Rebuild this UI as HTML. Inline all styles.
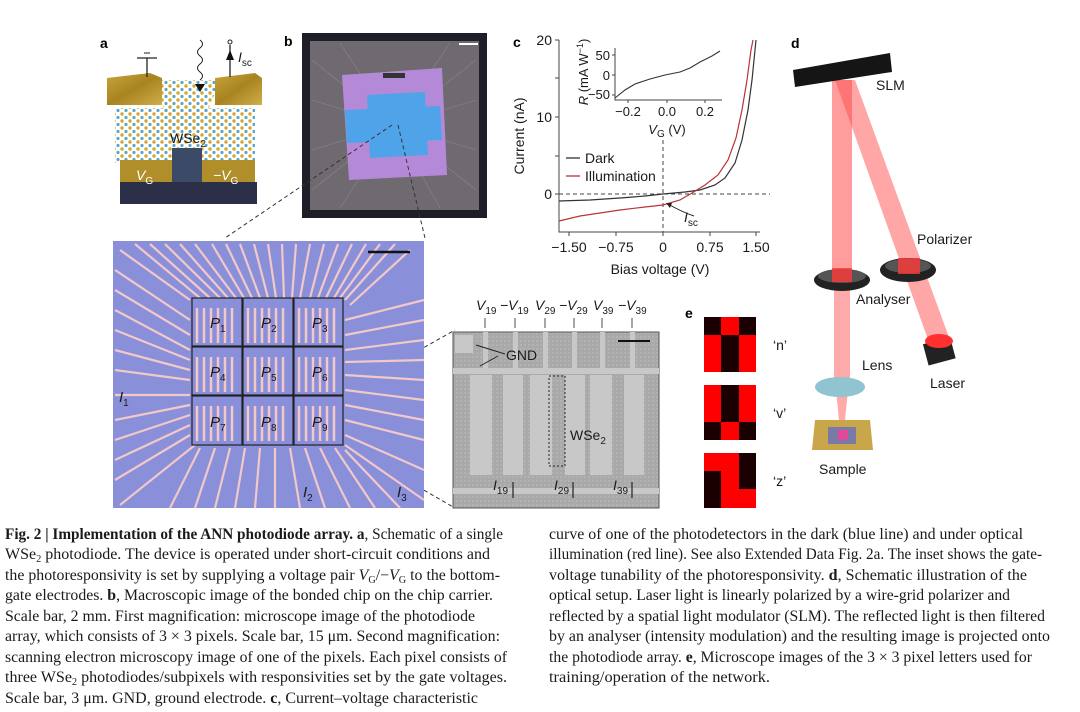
<!DOCTYPE html>
<html><head><meta charset="utf-8"><style>
html,body{margin:0;padding:0;background:#fff;width:1080px;height:712px;overflow:hidden}
svg{display:block}
.s{font-family:"Liberation Sans",Arial,sans-serif;fill:#1a1a1a}
.c{font-family:"Liberation Serif",serif;font-size:15.5px;fill:#1a1a1a}
.b{font-weight:bold}
.lbl{font-family:"Liberation Sans",sans-serif;font-weight:bold;font-size:14px}
</style></head><body>
<svg width="1080" height="712" viewBox="0 0 1080 712">
<defs>
<pattern id="atoms" width="8" height="7" patternUnits="userSpaceOnUse">
<circle cx="2" cy="2" r="1.7" fill="#d4a92a"/><circle cx="6" cy="5.5" r="1.6" fill="#5aa7c9"/>
</pattern>
<pattern id="sem" width="4" height="4" patternUnits="userSpaceOnUse"><rect width="4" height="4" fill="#a9a9a9"/><rect width="2" height="2" fill="#b2b2b2"/></pattern>
<linearGradient id="gold" x1="0" y1="0" x2="1" y2="1"><stop offset="0" stop-color="#c9a43a"/><stop offset="0.5" stop-color="#a88420"/><stop offset="1" stop-color="#d0ae4a"/></linearGradient>
</defs>

<!-- panel a -->
<text x="100" y="48" class="lbl">a</text>
<rect x="115" y="108" width="140" height="55" fill="url(#atoms)"/>
<polygon points="155,80 220,80 200,130 170,130" fill="url(#atoms)"/>
<rect x="120" y="160" width="135" height="22" fill="#b08e2a"/>
<rect x="172" y="148" width="30" height="34" fill="#3b4a66"/>
<rect x="120" y="182" width="137" height="22" fill="#2b3048"/>
<polygon points="107,78 150,73 162,78 162,105 107,105" fill="url(#gold)"/>
<polygon points="215,78 255,73 262,78 262,105 215,105" fill="url(#gold)"/>
<line x1="147" y1="58" x2="147" y2="77" stroke="#222" stroke-width="1.3"/>
<line x1="137" y1="58" x2="157" y2="58" stroke="#222" stroke-width="1.3"/>
<line x1="144" y1="53" x2="150" y2="53" stroke="#222"/>
<line x1="230" y1="45" x2="230" y2="77" stroke="#222" stroke-width="1.3"/>
<polygon points="226,60 234,60 230,50" fill="#111"/>
<circle cx="230" cy="42" r="2" fill="none" stroke="#222"/>
<text x="238" y="62" class="s" font-size="14" font-style="italic">I<tspan font-size="10" font-style="normal" dy="4">sc</tspan></text>
<path d="M200,40 q5,4 0,8 q-5,4 0,8 q5,4 0,8 q-5,4 0,8 q5,4 0,8" fill="none" stroke="#222"/>
<polygon points="195,84 205,84 200,92" fill="#111"/>
<text x="170" y="143" class="s" font-size="14">WSe<tspan font-size="10" dy="4">2</tspan></text>
<text x="136" y="180" class="s" font-size="14" font-style="italic" fill="#fff" style="fill:#fff">V<tspan font-size="10" font-style="normal" dy="4">G</tspan></text>
<text x="213" y="180" class="s" font-size="14" font-style="italic" style="fill:#fff">−V<tspan font-size="10" font-style="normal" dy="4">G</tspan></text>

<!-- panel b -->
<text x="284" y="46" class="lbl">b</text>
<rect x="302" y="33" width="185" height="185" fill="#1e1e28"/>
<rect x="310" y="41" width="169" height="169" fill="#6e6a70"/>
<g stroke="#8a868c" stroke-width="0.6">
<line x1="394" y1="125" x2="312" y2="60"/><line x1="394" y1="125" x2="312" y2="100"/><line x1="394" y1="125" x2="312" y2="150"/><line x1="394" y1="125" x2="312" y2="190"/>
<line x1="394" y1="125" x2="476" y2="60"/><line x1="394" y1="125" x2="476" y2="100"/><line x1="394" y1="125" x2="476" y2="150"/><line x1="394" y1="125" x2="476" y2="190"/>
<line x1="394" y1="125" x2="340" y2="208"/><line x1="394" y1="125" x2="440" y2="208"/><line x1="394" y1="125" x2="340" y2="43"/><line x1="394" y1="125" x2="450" y2="43"/>
</g>
<polygon points="342,75 442,68 447,175 349,180" fill="#b48ad8"/>
<polygon points="367,95 425,92 428,155 370,158" fill="#4fa3e8"/>
<polygon points="345,110 440,106 442,140 347,143" fill="#4fa3e8"/>
<rect x="383" y="73" width="22" height="5" fill="#333"/>
<line x1="459" y1="44" x2="478" y2="44" stroke="#fff" stroke-width="2"/>

<!-- dashed zoom lines -->
<g stroke="#333" stroke-dasharray="4,3" stroke-width="1">
<line x1="392" y1="125" x2="225" y2="238"/><line x1="398" y1="125" x2="425" y2="238"/>
<line x1="345" y1="392" x2="455" y2="330"/><line x1="345" y1="445" x2="455" y2="508"/>
</g>

<!-- microscope -->
<rect x="113" y="241" width="311" height="267" fill="#8a8fd9"/>
<g stroke="#f2c8c8" stroke-width="2.2" fill="none">
<path d="M120,250 L190,300 M135,244 L200,298 M150,244 L210,298 M165,244 L220,298 M180,244 L228,298 M195,244 L236,298 M212,244 L244,298 M226,244 L252,298 M240,244 L260,298 M254,244 L268,298 M268,244 L276,298 M282,244 L284,298 M296,244 L292,298 M310,244 L300,298 M324,244 L310,298 M338,244 L318,298 M352,244 L326,298 M366,244 L334,298 M380,244 L340,298 M395,244 L345,300 M410,250 L350,305"/>
<path d="M115,270 L190,320 M115,290 L190,335 M115,310 L190,350 M115,330 L190,360 M115,350 L190,370 M115,370 L190,380 M115,395 L190,395 M115,420 L190,405 M115,440 L190,415 M115,460 L190,425 M115,480 L190,435 M120,505 L195,445"/>
<path d="M424,300 L345,320 M424,320 L345,335 M424,340 L345,350 M424,360 L345,362 M424,380 L345,375 M424,400 L345,390 M424,420 L345,405 M424,440 L345,420 M424,470 L345,435 M424,500 L345,445"/>
<path d="M200,448 L170,508 M215,448 L195,508 M230,448 L215,508 M245,448 L235,508 M260,448 L255,508 M275,448 L275,508 M290,448 L300,508 M305,448 L325,508 M320,448 L350,508 M335,448 L375,508 M345,450 L400,508"/>
</g>
<g stroke="#f2c8c8" stroke-width="2.5">
<path d="M197,308 v35 M204,308 v35 M211,308 v35 M218,308 v35 M225,308 v35 M232,308 v35 M248,308 v35 M255,308 v35 M262,308 v35 M269,308 v35 M276,308 v35 M283,308 v35 M299,308 v35 M306,308 v35 M313,308 v35 M320,308 v35 M327,308 v35 M334,308 v35"/>
<path d="M197,357 v35 M204,357 v35 M211,357 v35 M218,357 v35 M225,357 v35 M232,357 v35 M248,357 v35 M255,357 v35 M262,357 v35 M269,357 v35 M276,357 v35 M283,357 v35 M299,357 v35 M306,357 v35 M313,357 v35 M320,357 v35 M327,357 v35 M334,357 v35"/>
<path d="M197,406 v35 M204,406 v35 M211,406 v35 M218,406 v35 M225,406 v35 M232,406 v35 M248,406 v35 M255,406 v35 M262,406 v35 M269,406 v35 M276,406 v35 M283,406 v35 M299,406 v35 M306,406 v35 M313,406 v35 M320,406 v35 M327,406 v35 M334,406 v35"/>
</g>
<g fill="none" stroke="#222" stroke-width="1.2">
<rect x="192" y="298" width="50" height="48"/><rect x="243" y="298" width="50" height="48"/><rect x="294" y="298" width="49" height="48"/>
<rect x="192" y="347" width="50" height="48"/><rect x="243" y="347" width="50" height="48"/><rect x="294" y="347" width="49" height="48"/>
<rect x="192" y="396" width="50" height="49"/><rect x="243" y="396" width="50" height="49"/><rect x="294" y="396" width="49" height="49"/>
</g>
<g class="s" font-size="15" font-style="italic">
<text x="210" y="328">P<tspan font-size="10" font-style="normal" dy="4">1</tspan></text>
<text x="261" y="328">P<tspan font-size="10" font-style="normal" dy="4">2</tspan></text>
<text x="312" y="328">P<tspan font-size="10" font-style="normal" dy="4">3</tspan></text>
<text x="210" y="377">P<tspan font-size="10" font-style="normal" dy="4">4</tspan></text>
<text x="261" y="377">P<tspan font-size="10" font-style="normal" dy="4">5</tspan></text>
<text x="312" y="377">P<tspan font-size="10" font-style="normal" dy="4">6</tspan></text>
<text x="210" y="427">P<tspan font-size="10" font-style="normal" dy="4">7</tspan></text>
<text x="261" y="427">P<tspan font-size="10" font-style="normal" dy="4">8</tspan></text>
<text x="312" y="427">P<tspan font-size="10" font-style="normal" dy="4">9</tspan></text>
<text x="119" y="402">I<tspan font-size="10" font-style="normal" dy="4">1</tspan></text>
<text x="303" y="497">I<tspan font-size="10" font-style="normal" dy="4">2</tspan></text>
<text x="397" y="497">I<tspan font-size="10" font-style="normal" dy="4">3</tspan></text>
</g>
<line x1="368" y1="252" x2="410" y2="252" stroke="#111" stroke-width="2.5"/>

<!-- SEM -->
<rect x="453" y="332" width="206" height="176" fill="url(#sem)" stroke="#555"/>
<g fill="#c8c8c8">
<rect x="453" y="368" width="206" height="6"/><rect x="453" y="488" width="206" height="6"/>
<rect x="470" y="375" width="22" height="100"/><rect x="503" y="375" width="20" height="100"/>
<rect x="530" y="375" width="22" height="100"/><rect x="565" y="375" width="20" height="100"/>
<rect x="590" y="375" width="22" height="100"/><rect x="624" y="375" width="20" height="100"/>
<rect x="483" y="332" width="5" height="40"/><rect x="513" y="332" width="5" height="40"/><rect x="543" y="332" width="5" height="40"/><rect x="572" y="332" width="5" height="40"/><rect x="600" y="332" width="5" height="40"/><rect x="630" y="332" width="5" height="40"/>
<rect x="455" y="335" width="18" height="18"/>
</g>
<rect x="549" y="376" width="16" height="90" fill="none" stroke="#222" stroke-dasharray="2,2"/>
<line x1="618" y1="341" x2="650" y2="341" stroke="#111" stroke-width="2"/>
<g stroke="#222"><line x1="476" y1="345" x2="505" y2="354"/><line x1="498" y1="356" x2="480" y2="366"/></g>
<text x="506" y="360" class="s" font-size="14">GND</text>
<text x="570" y="440" class="s" font-size="14">WSe<tspan font-size="10" dy="4">2</tspan></text>
<g class="s" font-size="14" font-style="italic">
<text x="476" y="310">V<tspan font-size="10" font-style="normal" dy="4">19</tspan></text>
<text x="500" y="310">−V<tspan font-size="10" font-style="normal" dy="4">19</tspan></text>
<text x="535" y="310">V<tspan font-size="10" font-style="normal" dy="4">29</tspan></text>
<text x="559" y="310">−V<tspan font-size="10" font-style="normal" dy="4">29</tspan></text>
<text x="593" y="310">V<tspan font-size="10" font-style="normal" dy="4">39</tspan></text>
<text x="618" y="310">−V<tspan font-size="10" font-style="normal" dy="4">39</tspan></text>
<text x="493" y="490">I<tspan font-size="10" font-style="normal" dy="4">19</tspan></text>
<text x="554" y="490">I<tspan font-size="10" font-style="normal" dy="4">29</tspan></text>
<text x="613" y="490">I<tspan font-size="10" font-style="normal" dy="4">39</tspan></text>
</g>
<g stroke="#222" stroke-width="0.8"><line x1="485" y1="318" x2="485" y2="328"/><line x1="515" y1="318" x2="515" y2="328"/><line x1="545" y1="318" x2="545" y2="328"/><line x1="574" y1="318" x2="574" y2="328"/><line x1="602" y1="318" x2="602" y2="328"/><line x1="632" y1="318" x2="632" y2="328"/>
<line x1="513" y1="482" x2="513" y2="498" stroke-width="1.2"/><line x1="573" y1="482" x2="573" y2="498" stroke-width="1.2"/><line x1="632" y1="482" x2="632" y2="498" stroke-width="1.2"/></g>

<!-- panel c -->
<text x="513" y="47" class="lbl">c</text>
<g stroke="#444" stroke-width="1" fill="none">
<polyline points="559,40 559,232 760,232"/>
<line x1="555" y1="40" x2="559" y2="40"/><line x1="555" y1="78" x2="559" y2="78"/><line x1="555" y1="117" x2="559" y2="117"/><line x1="555" y1="156" x2="559" y2="156"/><line x1="555" y1="194" x2="559" y2="194"/>
<line x1="569" y1="232" x2="569" y2="236"/><line x1="616" y1="232" x2="616" y2="236"/><line x1="663" y1="232" x2="663" y2="236"/><line x1="710" y1="232" x2="710" y2="236"/><line x1="756" y1="232" x2="756" y2="236"/>
<line x1="559" y1="194" x2="770" y2="194" stroke-dasharray="4,3"/>
<line x1="663" y1="140" x2="663" y2="232" stroke-dasharray="4,3"/>
</g>
<g class="s" font-size="14" text-anchor="end"><text x="552" y="45">20</text><text x="552" y="122">10</text><text x="552" y="199">0</text></g>
<g class="s" font-size="14" text-anchor="middle"><text x="569" y="252">−1.50</text><text x="616" y="252">−0.75</text><text x="663" y="252">0</text><text x="710" y="252">0.75</text><text x="756" y="252">1.50</text>
<text x="660" y="274">Bias voltage (V)</text>
<text transform="translate(524,136) rotate(-90)">Current (nA)</text></g>
<polyline fill="none" stroke="#333" stroke-width="1.2" points="559,201 590,200 620,198 645,196 663,194 685,192 700,190 715,185 725,178 735,163 742,140 748,110 752,80 755,50 756,40"/>
<polyline fill="none" stroke="#b33" stroke-width="1.2" points="559,221 580,216 600,213 620,210 645,207 663,205 680,200 692,193 705,185 718,175 728,160 736,138 742,110 747,80 751,50 753,40"/>
<line x1="566" y1="158" x2="580" y2="158" stroke="#333" stroke-width="1.3"/>
<line x1="566" y1="176" x2="580" y2="176" stroke="#b33" stroke-width="1.3"/>
<text x="585" y="163" class="s" font-size="14">Dark</text>
<text x="585" y="181" class="s" font-size="14">Illumination</text>
<path d="M694,216 q-12,-4 -26,-12" fill="none" stroke="#222"/><polygon points="666,203 672,203 670,208" fill="#222"/>
<text x="684" y="222" class="s" font-size="14" font-style="italic">I<tspan font-size="10" font-style="normal" dy="4">sc</tspan></text>
<!-- inset -->
<g stroke="#444" fill="none"><polyline points="615,48 615,100 722,100"/>
<line x1="612" y1="55" x2="615" y2="55"/><line x1="612" y1="75" x2="615" y2="75"/><line x1="612" y1="95" x2="615" y2="95"/>
<line x1="628" y1="100" x2="628" y2="103"/><line x1="667" y1="100" x2="667" y2="103"/><line x1="705" y1="100" x2="705" y2="103"/></g>
<polyline fill="none" stroke="#333" stroke-width="1.1" points="615,98 625,90 635,84 650,79 665,75 680,72 690,68 700,62 712,56 720,51"/>
<g class="s" font-size="13" text-anchor="end"><text x="610" y="60">50</text><text x="610" y="80">0</text><text x="610" y="99">−50</text></g>
<g class="s" font-size="13" text-anchor="middle"><text x="628" y="116">−0.2</text><text x="667" y="116">0.0</text><text x="705" y="116">0.2</text>
<text x="667" y="134" font-style="italic">V<tspan font-size="10" font-style="normal" dy="3">G</tspan><tspan dy="-3" font-style="normal"> (V)</tspan></text>
<text transform="translate(588,72) rotate(-90)"><tspan font-style="italic">R</tspan> (mA W<tspan font-size="9" dy="-5">−1</tspan><tspan dy="5">)</tspan></text></g>

<!-- panel d -->
<text x="791" y="48" class="lbl">d</text>
<polygon points="832,80 852,80 852,277 832,277" fill="#ff4d4d" opacity="0.55"/>
<polygon points="834,277 850,277 850,383 834,383" fill="#ff5555" opacity="0.5"/>
<polygon points="836,390 848,390 844,430 840,430" fill="#ff5555" opacity="0.5"/>
<polygon points="835,80 855,80 950,340 930,345" fill="#ff4d4d" opacity="0.5"/>
<polygon points="793,70 890,53 892,72 795,87" fill="#151515"/>
<ellipse cx="842" cy="280" rx="28" ry="11" fill="#222"/><ellipse cx="842" cy="276" rx="24" ry="7" fill="#555"/><rect x="832" y="268" width="20" height="14" fill="#ff3a3a" opacity="0.8"/>
<ellipse cx="908" cy="270" rx="28" ry="12" fill="#222"/><ellipse cx="908" cy="266" rx="23" ry="7" fill="#555"/><rect x="898" y="258" width="22" height="16" fill="#ff3a3a" opacity="0.8"/>
<rect x="925" y="340" width="28" height="22" fill="#222" transform="rotate(-15 940 350)"/>
<ellipse cx="939" cy="341" rx="14" ry="7" fill="#ff3030"/>
<ellipse cx="840" cy="387" rx="25" ry="10" fill="#8fc4d0"/>
<polygon points="815,420 870,420 873,450 812,450" fill="#c9a64a"/><rect x="828" y="427" width="28" height="17" fill="#7a7aa8"/><rect x="838" y="430" width="10" height="10" fill="#e04a9a"/>
<g class="s" font-size="14"><text x="876" y="90">SLM</text><text x="917" y="244">Polarizer</text><text x="856" y="304">Analyser</text><text x="862" y="370">Lens</text><text x="930" y="388">Laser</text><text x="819" y="474">Sample</text></g>

<!-- panel e -->
<text x="685" y="318" class="lbl">e</text>
<g>
<rect x="704" y="317" width="52" height="55" fill="#1a0000"/>
<rect x="721" y="317" width="18" height="18" fill="#f00"/><rect x="704" y="335" width="17" height="37" fill="#f00"/><rect x="739" y="335" width="17" height="37" fill="#f00"/>
<rect x="704" y="385" width="52" height="55" fill="#1a0000"/>
<rect x="704" y="385" width="17" height="37" fill="#f00"/><rect x="739" y="385" width="17" height="37" fill="#f00"/><rect x="721" y="422" width="18" height="18" fill="#f00"/>
<rect x="704" y="453" width="52" height="55" fill="#1a0000"/>
<rect x="704" y="453" width="35" height="18" fill="#f00"/><rect x="721" y="471" width="18" height="18" fill="#f00"/><rect x="721" y="489" width="35" height="19" fill="#f00"/>
</g>
<g class="s" font-size="14"><text x="773" y="350">‘n’</text><text x="773" y="418">‘v’</text><text x="773" y="486">‘z’</text></g>

<!-- caption left -->
<g class="c">
<text x="5" y="539" textLength="498" lengthAdjust="spacingAndGlyphs"><tspan class="b">Fig. 2 | Implementation of the ANN photodiode array. a</tspan>, Schematic of a single</text>
<text x="5" y="559" textLength="485" lengthAdjust="spacingAndGlyphs">WSe<tspan font-size="10" dy="3">2</tspan><tspan dy="-3"> photodiode. The device is operated under short-circuit conditions and</tspan></text>
<text x="5" y="580" textLength="495" lengthAdjust="spacingAndGlyphs">the photoresponsivity is set by supplying a voltage pair <tspan font-style="italic">V</tspan><tspan font-size="10" dy="3">G</tspan><tspan dy="-3">/−</tspan><tspan font-style="italic">V</tspan><tspan font-size="10" dy="3">G</tspan><tspan dy="-3"> to the bottom-</tspan></text>
<text x="5" y="600" textLength="488" lengthAdjust="spacingAndGlyphs">gate electrodes. <tspan class="b">b</tspan>, Macroscopic image of the bonded chip on the chip carrier.</text>
<text x="5" y="621" textLength="470" lengthAdjust="spacingAndGlyphs">Scale bar, 2 mm. First magnification: microscope image of the photodiode</text>
<text x="5" y="641" textLength="495" lengthAdjust="spacingAndGlyphs">array, which consists of 3 × 3 pixels. Scale bar, 15 μm. Second magnification:</text>
<text x="5" y="662" textLength="502" lengthAdjust="spacingAndGlyphs">scanning electron microscopy image of one of the pixels. Each pixel consists of</text>
<text x="5" y="682" textLength="502" lengthAdjust="spacingAndGlyphs">three WSe<tspan font-size="10" dy="3">2</tspan><tspan dy="-3"> photodiodes/subpixels with responsivities set by the gate voltages.</tspan></text>
<text x="5" y="703" textLength="473" lengthAdjust="spacingAndGlyphs">Scale bar, 3 μm. GND, ground electrode. <tspan class="b">c</tspan>, Current–voltage characteristic</text>
</g>
<!-- caption right -->
<g class="c">
<text x="549" y="539" textLength="474" lengthAdjust="spacingAndGlyphs">curve of one of the photodetectors in the dark (blue line) and under optical</text>
<text x="549" y="559" textLength="493" lengthAdjust="spacingAndGlyphs">illumination (red line). See also Extended Data Fig. 2a. The inset shows the gate-</text>
<text x="549" y="580" textLength="478" lengthAdjust="spacingAndGlyphs">voltage tunability of the photoresponsivity. <tspan class="b">d</tspan>, Schematic illustration of the</text>
<text x="549" y="600" textLength="461" lengthAdjust="spacingAndGlyphs">optical setup. Laser light is linearly polarized by a wire-grid polarizer and</text>
<text x="549" y="621" textLength="496" lengthAdjust="spacingAndGlyphs">reflected by a spatial light modulator (SLM). The reflected light is then filtered</text>
<text x="549" y="641" textLength="501" lengthAdjust="spacingAndGlyphs">by an analyser (intensity modulation) and the resulting image is projected onto</text>
<text x="549" y="662" textLength="483" lengthAdjust="spacingAndGlyphs">the photodiode array. <tspan class="b">e</tspan>, Microscope images of the 3 × 3 pixel letters used for</text>
<text x="549" y="682" textLength="221" lengthAdjust="spacingAndGlyphs">training/operation of the network.</text>
</g>
</svg>
</body></html>
